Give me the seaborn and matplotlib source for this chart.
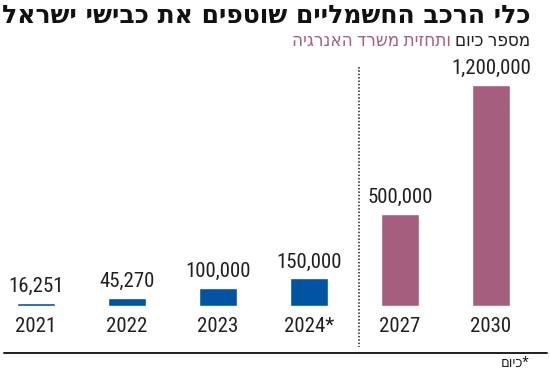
import matplotlib
matplotlib.use("Agg")
import matplotlib.pyplot as plt
import matplotlib.transforms as mtransforms
import seaborn as sns
import pandas as pd

years = ["2021", "2022", "2023", "2024*", "2027", "2030"]
values = [16251, 45270, 100000, 150000, 500000, 1200000]
groups = ["actual", "actual", "actual", "actual", "forecast", "forecast"]
value_labels = ["16,251", "45,270", "100,000", "150,000", "500,000", "1,200,000"]

title = "כלי הרכב החשמליים שוטפים את כבישי ישראל"
sub_dark = "מספר כיום"
sub_color = "ותחזית משרד האנרגיה"
footnote = "*כיום"

BLUE = "#0054a2"
MAUVE = "#a55e7e"
DARK = "#231f20"

def vis(s):
    return s[::-1]

sns.set_theme(style="white")
COND = ["Roboto Condensed", "Liberation Sans Narrow", "DejaVu Sans", "Liberation Sans"]
plt.rcParams["font.family"] = COND
plt.rcParams["font.stretch"] = "condensed"

W, H = 550, 377
fig = plt.figure(figsize=(W / 100, H / 100), dpi=100)

base_px = 306
top_px = 60
ax = fig.add_axes([0, (H - base_px) / H, 1, (base_px - top_px) / H])
ax.set_facecolor("none")

df = pd.DataFrame({"year": years, "value": values, "group": groups})
sns.barplot(data=df, x="year", y="value", hue="group",
            palette={"actual": BLUE, "forecast": MAUVE},
            dodge=False, width=0.42, legend=False, ax=ax, saturation=1)

x0, step = 36, 91
ax.set_xlim(-x0 / step, (W - x0) / step)
ax.set_ylim(0, 1200000 * (base_px - top_px) / (306 - 85))
ax.axis("off")

for i, (lab, v) in enumerate(zip(value_labels, values)):
    ax.annotate(lab, (i, v), xytext=(0, 5), textcoords="offset points",
                ha="center", va="bottom", fontsize=15, color=DARK,
                fontstretch="condensed")

trans = mtransforms.blended_transform_factory(ax.transData, fig.transFigure)
for i, y in enumerate(years):
    ax.text(i, (H - 327) / H, y, transform=trans, ha="center", va="center",
            fontsize=15, color=DARK, fontstretch="condensed")

ax.plot([3.55, 3.55], [(H - 67) / H, (H - 347) / H], transform=trans,
        color=DARK, lw=1.1, ls=(0, (1, 1.2)), clip_on=False)

fig.add_artist(plt.Line2D([4 / W, 547 / W], [(H - 353) / H] * 2,
                          color=DARK, lw=1.4, transform=fig.transFigure))

fig.text(530 / W, (H - 16) / H, vis(title), ha="right", va="center",
         fontsize=18, fontweight="bold", color="#111111",
         family=["DejaVu Sans"], fontstretch="normal")

t1 = fig.text(530 / W, (H - 41) / H, vis(sub_dark), ha="right", va="center",
              fontsize=13.5, color=DARK, fontstretch="condensed")
fig.canvas.draw()
bb = t1.get_window_extent()
fig.text((bb.x0 - 4) / W, (H - 41) / H, vis(sub_color), ha="right", va="center",
         fontsize=13.5, color=MAUVE, fontstretch="condensed")

fig.text(529 / W, (H - 363) / H, vis(footnote), ha="right", va="center",
         fontsize=10.5, color=DARK, fontstretch="condensed")

fig.savefig("out.png", dpi=100)
